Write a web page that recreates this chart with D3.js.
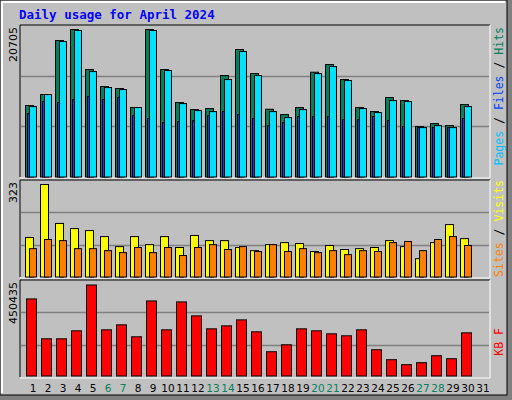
<!DOCTYPE html>
<html><head>
<script src="https://cdn.jsdelivr.net/npm/d3@7"></script>
<style>body{margin:0;background:#fff}</style>
</head><body>
<svg id="c" width="512" height="400"></svg>
<script>
var days = d3.range(1, 32);
var weekend = [6, 7, 13, 14, 20, 21, 27, 28];
var hits = [10024,11570,19158,20705,15083,12694,12413,9743,20690,15083,10445,9462,9602,14239,17893,14520,9509,8759,9743,14708,15785,13677,9743,9181,11148,10726,7073,7494,7213,10164];
var files = [9883,11570,19017,20563,14801,12553,12272,9743,20563,14942,10305,9321,9181,13677,17612,14239,9181,8338,9462,14520,15504,13537,9602,9040,10726,10586,6932,7213,6932,9883];
var pages = [8900,10586,10445,10867,11288,10867,11148,8619,8197,7635,7775,7916,8619,9181,8759,8197,7213,7635,8478,8478,8478,8056,8056,8478,7916,7073,6932,6932,6932,8197];
var visits = [138,323,187,169,162,141,106,141,113,141,103,145,127,127,103,92,113,120,117,89,110,96,99,103,127,106,64,120,183,134];
var sites = [99,131,127,99,99,92,85,103,85,103,75,103,113,96,106,89,113,89,99,85,92,78,92,89,120,124,92,131,141,110];
var kbytes = [381400,184100,184100,223600,450435,228500,253200,194000,371500,228500,366600,297600,233400,248200,277800,218600,120000,154500,233400,223600,208800,198900,228500,129900,80600,55900,65800,100300,85500,213700];

var svg = d3.select("#c");
var mono = "DejaVu Sans Mono, monospace";
// frame
svg.append("rect").attr("x",0).attr("y",0).attr("width",512).attr("height",400).attr("fill","#808080");
svg.append("rect").attr("x",0).attr("y",0).attr("width",507).attr("height",395).attr("fill","#c0c0c0").attr("stroke","#000").attr("stroke-width",1);
svg.append("path").attr("d","M2,393V2H505").attr("fill","none").attr("stroke","#fff").attr("stroke-width",2);

svg.append("text").attr("x",19).attr("y",19).text("Daily usage for April 2024")
  .attr("font-family",mono).attr("font-weight","bold").attr("font-size",12.5).attr("fill","#0000ff");

var x = d3.scaleLinear().domain([1, 31]).range([25, 475]);

function panel(top, bot, label) {
  svg.append("path").attr("d","M20,"+bot+"V"+top+"H490").attr("fill","none").attr("stroke","#000");
  svg.append("path").attr("d","M20,"+(bot+1)+"H490V"+top).attr("fill","none").attr("stroke","#fff");
  var h = bot - top;
  [1/3, 2/3].forEach(function(f) {
    var yy = Math.round(top + h * f) + 0.5;
    svg.append("line").attr("x1",21).attr("x2",489).attr("y1",yy).attr("y2",yy).attr("stroke","#808080").attr("stroke-width",1.5);
  });
  svg.append("text").attr("transform","translate(17,"+(top+2)+") rotate(-90)").attr("text-anchor","end")
    .attr("font-family","DejaVu Sans, sans-serif").attr("font-size",11).text(label);
}
function bars(data, y, dx, w, fill) {
  svg.append("g").selectAll("rect").data(data).join("rect")
    .attr("x", function(d, i){ return x(i + 1) + dx + 0.5; })
    .attr("y", function(d){ return y(d) + 0.5; })
    .attr("width", w).attr("height", function(d){ return y(0) - y(d); })
    .attr("fill", fill).attr("stroke", "#000").attr("stroke-width", 1);
}
function rlabel(top, parts) {
  var t = svg.append("text").attr("transform","translate(503,"+top+") rotate(-90)").attr("text-anchor","end")
    .attr("font-family",mono).attr("font-size",11.5);
  parts.forEach(function(p){ t.append("tspan").attr("fill",p[1]).text(p[0]); });
}

// top panel
panel(25, 177, "20705");
var y1 = d3.scaleLinear().domain([0, 20705]).range([176.5, 29]);
bars(hits, y1, 0, 8, "#00805c");
bars(pages, y1, 2, 2.5, "#0040ff");
bars(files, y1, 4, 7, "#00e0ff");
rlabel(27, [["Pages","#00c0ff"],[" / ","#000"],["Files","#0040ff"],[" / ","#000"],["Hits","#00805c"]]);

// middle panel
panel(180, 277, "323");
var y2 = d3.scaleLinear().domain([0, 323]).range([276.5, 184]);
bars(visits, y2, 0, 8, "#ffff00");
bars(sites, y2, 4, 7, "#ff8000");
rlabel(180, [["Sites","#ff8000"],[" / ","#000"],["Visits","#ffff00"]]);

// bottom panel
panel(280, 377, "450435");
var y3 = d3.scaleLinear().domain([0, 450435]).range([375.5, 284.5]);
bars(kbytes, y3, 1, 10, "#ff0000");
rlabel(328, [["KB F","#ff0000"]]);

// day labels
svg.append("g").selectAll("text").data(days).join("text")
  .attr("x", function(d){ return x(d) + 8; }).attr("y", 392).attr("text-anchor","middle")
  .attr("font-family","DejaVu Sans, sans-serif").attr("font-size",10.5)
  .attr("fill", function(d){ return weekend.indexOf(d) >= 0 ? "#00805c" : "#000"; })
  .text(function(d){ return d; });
</script>
</body></html>
